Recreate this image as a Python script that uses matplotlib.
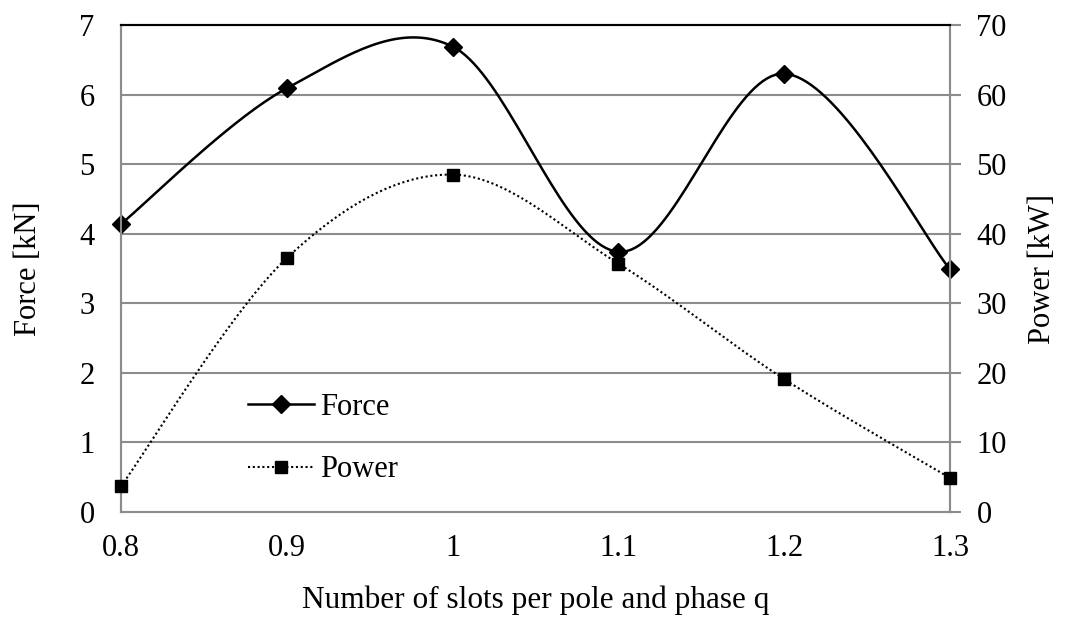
import numpy as np
import matplotlib
matplotlib.use("Agg")
import matplotlib.pyplot as plt
from matplotlib.lines import Line2D

q = [0.8, 0.9, 1.0, 1.1, 1.2, 1.3]
force_kn = [4.14, 6.09, 6.69, 3.74, 6.30, 3.49]
power_kw = [3.7, 36.5, 48.5, 35.7, 19.1, 4.9]
x_ticks = [0.8, 0.9, 1.0, 1.1, 1.2, 1.3]
x_ticklabels = ["0.8", "0.9", "1", "1.1", "1.2", "1.3"]

plt.rcParams['font.family'] = ['Liberation Serif', 'DejaVu Serif']


def excel_smooth(x, y, n=40):
    x = np.asarray(x, float)
    y = np.asarray(y, float)
    P = np.column_stack([x, y])
    out = []
    for i in range(len(P) - 1):
        p0 = P[i - 1] if i > 0 else P[i]
        p1 = P[i]
        p2 = P[i + 1]
        p3 = P[i + 2] if i + 2 < len(P) else P[i + 1]
        c1 = p1 + (p2 - p0) / 6.0
        c2 = p2 - (p3 - p1) / 6.0
        t = np.linspace(0, 1, n)[:, None]
        seg = ((1 - t) ** 3) * p1 + 3 * ((1 - t) ** 2) * t * c1 + 3 * (1 - t) * t ** 2 * c2 + t ** 3 * p2
        out.append(seg if i == 0 else seg[1:])
    s = np.vstack(out)
    return s[:, 0], s[:, 1]


fig = plt.figure(figsize=(10.78, 6.19), dpi=100)
ax = fig.add_axes([121 / 1078, 1 - 512 / 619, (950 - 121) / 1078, (512 - 25) / 619])
ax2 = ax.twinx()

grid_c = '#8c8c8c'
ax.set_xlim(0.8, 1.3)
ax.set_ylim(0, 7)
ax2.set_ylim(0, 70)
ax.set_yticks(range(0, 8))
ax2.set_yticks(range(0, 71, 10))
ax.set_xticks(x_ticks)
ax.set_xticklabels(x_ticklabels)

for yv in range(1, 7):
    ax.axhline(yv, color=grid_c, lw=1.5, zorder=0)

for a in (ax, ax2):
    for s in a.spines.values():
        s.set_color(grid_c)
        s.set_linewidth(1.5)
    a.spines['top'].set_color('black')
    a.spines['top'].set_linewidth(1.5)

fs = 22
ax.tick_params(axis='y', length=0, pad=19, labelsize=fs)
ax.tick_params(axis='x', length=0, pad=16, labelsize=fs)
ax2.tick_params(axis='y', length=8, width=1.5, color=grid_c, direction='out', pad=11, labelsize=fs)

fx, fy = excel_smooth(q, force_kn)
ax.plot(fx, fy, color='black', lw=1.8, zorder=3, clip_on=False)
ax.plot(q, force_kn, ls='none', marker='D', ms=9, color='black', zorder=4, clip_on=False)

px, py = excel_smooth(q, power_kw)
ax2.plot(px, py, color='black', lw=1.5, ls=(0, (1, 1.3)), zorder=3, clip_on=False)
ax2.plot(q, power_kw, ls='none', marker='s', ms=8.5, color='black', zorder=4, clip_on=False)

ax.set_ylabel("Force [kN]", fontsize=fs, labelpad=26)
ax2.set_ylabel("Power [kW]", fontsize=fs, labelpad=15)
ax.set_xlabel("Number of slots per pole and phase q", fontsize=22.5, labelpad=16)

handles = [
    Line2D([], [], color='black', lw=1.8, marker='D', ms=9),
    Line2D([], [], color='black', lw=1.5, ls=(0, (1, 1.3)), marker='s', ms=8.5),
]
ax2.legend(handles, ["Force", "Power"], loc='center left', bbox_to_anchor=(0.12, 0.151),
           frameon=False, fontsize=fs, handlelength=2.16, handletextpad=0.2, labelspacing=1.1)

fig.savefig("out.png", dpi=100)
